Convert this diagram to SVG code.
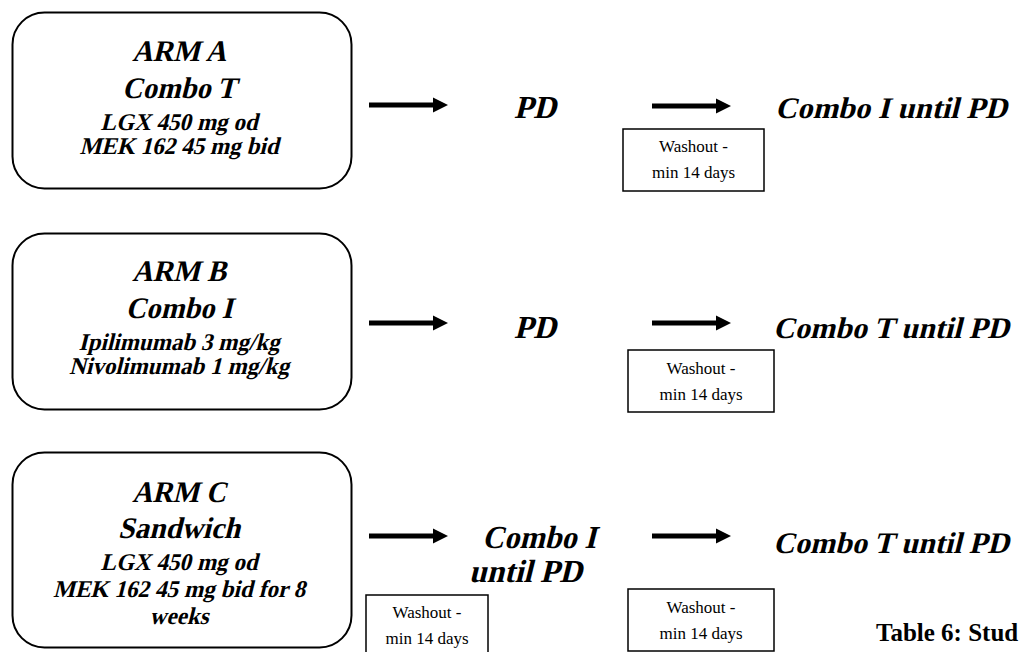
<svg xmlns="http://www.w3.org/2000/svg" width="1020" height="652" viewBox="0 0 1020 652">
<defs>
<marker id="ah" markerUnits="userSpaceOnUse" markerWidth="16" markerHeight="16" refX="3" refY="8" orient="auto" viewBox="0 0 16 16">
<path d="M0,0.5 L15,8 L0,15.5 Z" fill="#000"/>
</marker>
<style>
.arm{fill:#fff;stroke:#000;stroke-width:2}
.wbox{fill:#fff;stroke:#000;stroke-width:1.5}
.t{font-family:"Liberation Serif","Times New Roman",serif;font-weight:bold;font-style:normal;fill:#000}
.h{font-size:30px}
.d{font-size:24px}
.r{font-size:32px}
.rl{font-size:30px}
.m{text-anchor:middle}
.w{font-family:"Liberation Serif","Times New Roman",serif;font-size:17px;fill:#000;text-anchor:middle}
.cap{font-family:"Liberation Serif","Times New Roman",serif;font-weight:bold;font-size:25px;fill:#000}
.conn line{stroke:#000;stroke-width:5;marker-end:url(#ah)}
</style>
</defs>
<rect width="1020" height="652" fill="#fff"/>

<g id="armA">
<rect class="arm" x="12.5" y="12.5" width="339" height="176" rx="32"/>
<text class="t h m" transform="translate(179,61) skewX(-14)" textLength="94" lengthAdjust="spacingAndGlyphs">ARM A</text>
<text class="t h m" transform="translate(179,98) skewX(-14)" textLength="114" lengthAdjust="spacingAndGlyphs">Combo T</text>
<text class="t d m" transform="translate(179,130) skewX(-14)" textLength="157" lengthAdjust="spacingAndGlyphs">LGX 450 mg od</text>
<text class="t d m" transform="translate(179,154) skewX(-14)" textLength="199" lengthAdjust="spacingAndGlyphs">MEK 162 45 mg bid</text>
</g>

<g id="armB">
<rect class="arm" x="12.5" y="233.5" width="339" height="176" rx="32"/>
<text class="t h m" transform="translate(179,281) skewX(-14)" textLength="94" lengthAdjust="spacingAndGlyphs">ARM B</text>
<text class="t h m" transform="translate(179,318) skewX(-14)" textLength="107" lengthAdjust="spacingAndGlyphs">Combo I</text>
<text class="t d m" transform="translate(179,350) skewX(-14)" textLength="201" lengthAdjust="spacingAndGlyphs">Ipilimumab 3 mg/kg</text>
<text class="t d m" transform="translate(179,374) skewX(-14)" textLength="220" lengthAdjust="spacingAndGlyphs">Nivolimumab 1 mg/kg</text>
</g>

<g id="armC">
<rect class="arm" x="12.5" y="452.5" width="339" height="195" rx="32"/>
<text class="t h m" transform="translate(179,502) skewX(-14)" textLength="94" lengthAdjust="spacingAndGlyphs">ARM C</text>
<text class="t h m" transform="translate(179,538) skewX(-14)" textLength="122" lengthAdjust="spacingAndGlyphs">Sandwich</text>
<text class="t d m" transform="translate(179,570) skewX(-14)" textLength="157" lengthAdjust="spacingAndGlyphs">LGX 450 mg od</text>
<text class="t d m" transform="translate(179,597) skewX(-14)" textLength="252" lengthAdjust="spacingAndGlyphs">MEK 162 45 mg bid for 8</text>
<text class="t d m" transform="translate(179,624) skewX(-14)" textLength="59" lengthAdjust="spacingAndGlyphs">weeks</text>
</g>

<g id="pdA"><text class="t r" transform="translate(514,118) skewX(-14)" textLength="42" lengthAdjust="spacingAndGlyphs">PD</text></g>
<g id="nextA"><text class="t rl" transform="translate(775,118) skewX(-14)" textLength="232" lengthAdjust="spacingAndGlyphs">Combo I until PD</text></g>
<g id="washA">
<rect class="wbox" x="623" y="129" width="141" height="62"/>
<text class="w" x="693.5" y="152">Washout -</text>
<text class="w" x="693.5" y="178">min 14 days</text>
</g>

<g id="pdB"><text class="t r" transform="translate(514,338) skewX(-14)" textLength="42" lengthAdjust="spacingAndGlyphs">PD</text></g>
<g id="nextB"><text class="t rl" transform="translate(773,338) skewX(-14)" textLength="236" lengthAdjust="spacingAndGlyphs">Combo T until PD</text></g>
<g id="washB">
<rect class="wbox" x="628" y="350" width="146" height="62"/>
<text class="w" x="701" y="374">Washout -</text>
<text class="w" x="701" y="400">min 14 days</text>
</g>

<g id="comboC">
<text class="t r" transform="translate(482,548) skewX(-14)" textLength="114" lengthAdjust="spacingAndGlyphs">Combo I</text>
<text class="t r" transform="translate(469,582) skewX(-14)" textLength="113" lengthAdjust="spacingAndGlyphs">until PD</text>
</g>
<g id="nextC"><text class="t rl" transform="translate(773,553) skewX(-14)" textLength="236" lengthAdjust="spacingAndGlyphs">Combo T until PD</text></g>
<g id="washC1">
<rect class="wbox" x="366" y="595" width="122" height="62"/>
<text class="w" x="427" y="618">Washout -</text>
<text class="w" x="427" y="644">min 14 days</text>
</g>
<g id="washC2">
<rect class="wbox" x="628" y="589" width="146" height="62"/>
<text class="w" x="701" y="613">Washout -</text>
<text class="w" x="701" y="639">min 14 days</text>
</g>

<g id="caption"><text class="cap" x="876" y="641">Table 6: Stud</text></g>

<g id="connectors" class="conn">
<line x1="369" y1="105" x2="436" y2="105"/>
<line x1="652" y1="106" x2="719" y2="106"/>
<line x1="369" y1="323" x2="436" y2="323"/>
<line x1="652" y1="323" x2="719" y2="323"/>
<line x1="369" y1="536" x2="436" y2="536"/>
<line x1="652" y1="536" x2="719" y2="536"/>
</g>
</svg>
